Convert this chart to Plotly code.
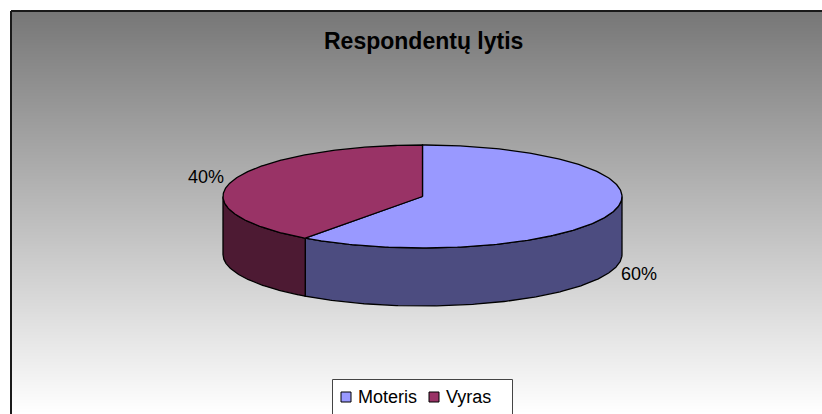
import numpy as np
import plotly.graph_objects as go

# --- data -------------------------------------------------------------
categories = ["Moteris", "Vyras"]
values = [60, 40]
top_colors = ["#9999FF", "#993366"]
side_colors = ["#4C4C80", "#4D1A33"]
title_text = "Respondentų lytis"

# --- canvas / pie geometry (pixel space) -------------------------------
W, H = 822, 414
CX, CY = 422.5, 196.5      # centre of the top face
RX, RY = 199.5, 51.5       # ellipse radii of the top face
DEPTH = 58                 # thickness of the disc
FONT = "Liberation Sans, Arial, sans-serif"


def pt(theta_deg, dz=0.0):
    t = np.radians(theta_deg)
    return CX + RX * np.cos(t), CY - RY * np.sin(t) + dz


def arc(a_from, a_to, dz=0.0, n=240):
    th = np.linspace(a_from, a_to, n)
    return pt(th, dz)


fig = go.Figure()

# background gradient (grey at the top fading to white)
rows = 403
y_edges = np.linspace(11, H, rows + 1)
z = np.linspace(0, 1, rows).reshape(-1, 1)
fig.add_trace(go.Heatmap(
    x=[11, W], y=y_edges, z=z, zmin=0, zmax=1,
    colorscale=[[0, "#777777"], [1, "#FFFFFF"]],
    showscale=False, hoverinfo="skip"))

# slice angles, clockwise from 12 o'clock
total = float(sum(values))
bounds = []
start = 90.0
for v in values:
    end = start - 360.0 * v / total
    bounds.append((start, end))
    start = end

# side walls (only the front half, angles in [-180, 0] is visible)
for (s, e), col in zip(bounds, side_colors):
    for shift in (0.0, -360.0):
        lo_v, hi_v = -180.0 + shift, 0.0 + shift
        hi = min(s, hi_v)
        lo = max(e, lo_v)
        if hi - lo <= 0.01:
            continue
        xt, yt = arc(hi, lo)
        xb, yb = arc(lo, hi, DEPTH)
        xs = np.concatenate([xt, xb, xt[:1]])
        ys = np.concatenate([yt, yb, yt[:1]])
        fig.add_trace(go.Scatter(
            x=xs, y=ys, mode="lines", fill="toself", fillcolor=col,
            line=dict(color="black", width=1.3), hoverinfo="skip",
            showlegend=False))

# top faces
for (s, e), col in zip(bounds, top_colors):
    xa, ya = arc(s, e)
    xs = np.concatenate([[CX], xa, [CX]])
    ys = np.concatenate([[CY], ya, [CY]])
    fig.add_trace(go.Scatter(
        x=xs, y=ys, mode="lines", fill="toself", fillcolor=col,
        line=dict(color="black", width=1.3), hoverinfo="skip",
        showlegend=False))

annotations = []
# percentage labels just outside each slice
for (s, e), v in zip(bounds, values):
    mid = (s + e) / 2.0
    t = np.radians(mid)
    lx = CX + RX * 1.14 * np.cos(t)
    ly = CY - RY * 1.25 * np.sin(t)
    if np.sin(t) < 0:
        ly += DEPTH
    annotations.append(dict(
        x=lx, y=ly, xref="x", yref="y", text=f"{v / total * 100:.0f}%",
        showarrow=False, font=dict(family=FONT, size=18, color="black"),
        xanchor="center", yanchor="middle"))

# title
annotations.append(dict(
    x=423, y=41, xref="x", yref="y", text=f"<b>{title_text}</b>",
    showarrow=False, font=dict(family=FONT, size=23, color="black"),
    xanchor="center", yanchor="middle"))

shapes = [
    # chart area frame (top and left edges)
    dict(type="line", xref="x", yref="y", x0=11, y0=11, x1=W + 5, y1=11,
         line=dict(color="#1a1a1a", width=2)),
    dict(type="line", xref="x", yref="y", x0=11, y0=11, x1=11, y1=H + 5,
         line=dict(color="#1a1a1a", width=2)),
    # legend box
    dict(type="rect", xref="x", yref="y", x0=332.5, y0=379.5, x1=512.5,
         y1=H + 10, line=dict(color="#444444", width=1), fillcolor="white"),
]

legend_key_x = [341, 429]
for kx, name, col in zip(legend_key_x, categories, top_colors):
    shapes.append(dict(type="rect", xref="x", yref="y", x0=kx, y0=392,
                       x1=kx + 10, y1=402, fillcolor=col,
                       line=dict(color="black", width=1)))
    annotations.append(dict(
        x=kx + 15, y=397, xref="x", yref="y", text=name, showarrow=False,
        font=dict(family=FONT, size=18, color="black"),
        xanchor="left", yanchor="middle"))

fig.update_layout(
    width=W, height=H, margin=dict(l=0, r=0, t=0, b=0),
    paper_bgcolor="white", plot_bgcolor="white",
    xaxis=dict(range=[0, W], visible=False, fixedrange=True),
    yaxis=dict(range=[H, 0], visible=False, fixedrange=True),
    shapes=shapes, annotations=annotations, showlegend=False)

fig.write_html("out.html")
